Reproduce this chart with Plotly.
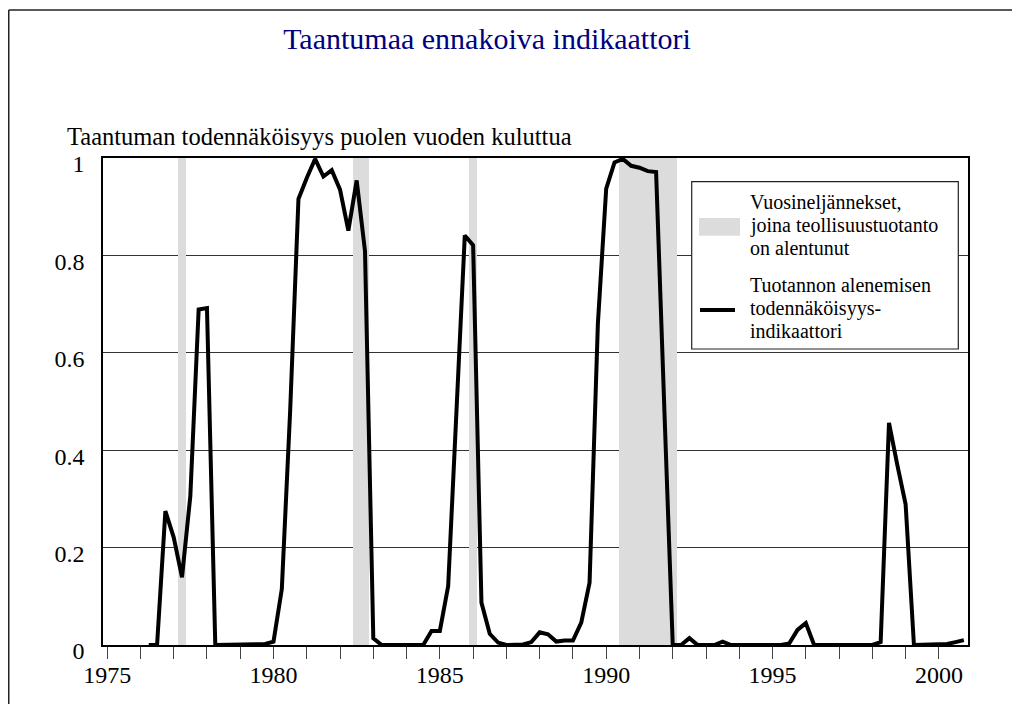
import plotly.graph_objects as go

# ---------------- data ----------------
first_quarter = 1976.25          # 1976 Q2 (decimal year of first observation)
quarter_step = 0.25
probability = [
    0.0, 0.0, 0.275,                 # 1976 Q2-Q4
    0.221, 0.139, 0.306, 0.689,      # 1977
    0.692, 0.0, 0.0, 0.0,            # 1978
    0.0, 0.0, 0.0, 0.002,            # 1979
    0.007, 0.115, 0.48, 0.916,       # 1980
    0.959, 0.998, 0.962, 0.975,      # 1981
    0.935, 0.851, 0.954, 0.809,      # 1982
    0.014, 0.0, 0.0, 0.0,            # 1983
    0.0, 0.0, 0.0, 0.029,            # 1984
    0.029, 0.121, 0.47, 0.841,       # 1985
    0.821, 0.087, 0.023, 0.005,      # 1986
    0.0, 0.0, 0.001, 0.006,          # 1987
    0.026, 0.022, 0.007, 0.009,      # 1988
    0.009, 0.046, 0.128, 0.66,       # 1989
    0.937, 0.991, 0.998, 0.984,      # 1990
    0.980, 0.973, 0.971, 0.48,       # 1991
    0.0, 0.0, 0.014, 0.0,            # 1992
    0.0, 0.0, 0.007, 0.0,            # 1993
    0.0, 0.0, 0.0, 0.0,              # 1994
    0.0, 0.0, 0.003, 0.031,          # 1995
    0.045, 0.0, 0.0, 0.0,            # 1996
    0.0, 0.0, 0.0, 0.0,              # 1997
    0.0, 0.006, 0.456, 0.37,         # 1998
    0.289, 0.0, 0.0, 0.0,            # 1999
    0.0, 0.002, 0.006, 0.01,         # 2000
]
quarters = [first_quarter + quarter_step * i for i in range(len(probability))]

# quarters in which industrial production fell (decimal year of quarter)
decline_quarters = [1977.25, 1982.5, 1982.75, 1986.0,
                    1990.5, 1990.75, 1991.0, 1991.25, 1991.5, 1991.75, 1992.0]

x_tickvals = [1975, 1980, 1985, 1990, 1995, 2000]
y_tickvals = [0, 0.2, 0.4, 0.6, 0.8, 1]
y_ticktext = ["0", "0.2", "0.4", "0.6", "0.8", "1"]

title_text = "Taantumaa ennakoiva indikaattori"
ytitle_text = "Taantuman todennäköisyys puolen vuoden kuluttua"
legend_shade_lines = ["Vuosineljännekset,", "joina teollisuustuotanto", "on alentunut"]
legend_line_lines = ["Tuotannon alenemisen", "todennäköisyys-", "indikaattori"]

# ---------------- figure ----------------
FONT = "Liberation Serif"
OFF = 8                      # page body margin of the rendered html
W, H = 1012, 696
L, R, T, B = 95, 52, 150, 59
PW, PH = W - L - R, H - T - B


def px(xs):
    """screen x pixel -> paper x"""
    return (xs - OFF - L) / PW


def py(ys):
    """screen y pixel -> paper y"""
    return (H - B - (ys - OFF)) / PH


fig = go.Figure()

fig.add_trace(go.Bar(
    x=decline_quarters, y=[1] * len(decline_quarters), width=quarter_step,
    marker=dict(color="#dcdcdc", line=dict(width=0)),
    showlegend=False, hoverinfo="skip",
))

fig.add_trace(go.Scatter(
    x=quarters, y=probability, mode="lines",
    line=dict(color="black", width=4),
    showlegend=False,
))

shapes = []
# outer frame (top and left edges)
shapes.append(dict(type="line", xref="paper", yref="paper",
                   x0=px(8.75), x1=px(1060), y0=py(10), y1=py(10),
                   line=dict(color="#222", width=1.5)))
shapes.append(dict(type="line", xref="paper", yref="paper",
                   x0=px(8.75), x1=px(8.75), y0=py(10), y1=py(740),
                   line=dict(color="#222", width=1.5)))
# legend box
shapes.append(dict(type="rect", xref="paper", yref="paper",
                   x0=px(691.7), x1=px(958.3), y0=py(349), y1=py(181.7),
                   fillcolor="white", line=dict(color="#222", width=1.2),
                   layer="above"))
shapes.append(dict(type="rect", xref="paper", yref="paper",
                   x0=px(699), x1=px(740), y0=py(235.7), y1=py(218),
                   fillcolor="#dcdcdc", line=dict(width=0), layer="above"))
shapes.append(dict(type="line", xref="paper", yref="paper",
                   x0=px(700), x1=px(735), y0=py(310), y1=py(310),
                   line=dict(color="black", width=4), layer="above"))

annotations = []
for txt, yc in zip(legend_shade_lines + legend_line_lines,
                   [202, 225, 248, 285, 308, 331]):
    annotations.append(dict(text=txt, xref="paper", yref="paper",
                            x=px(748), y=py(yc), xanchor="left", yanchor="middle",
                            showarrow=False, font=dict(family=FONT, size=20, color="black")))
annotations.append(dict(text=ytitle_text, xref="paper", yref="paper",
                        x=px(65), y=py(136), xanchor="left", yanchor="middle",
                        showarrow=False, font=dict(family=FONT, size=24.5, color="black")))

fig.update_layout(
    width=W, height=H,
    margin=dict(l=L, r=R, t=T, b=B, pad=0),
    paper_bgcolor="white", plot_bgcolor="white",
    title=dict(text=title_text, x=(487 - OFF) / W, y=1 - (38 - OFF) / H,
               xanchor="center", yanchor="middle",
               xref="container", yref="container",
               font=dict(family=FONT, size=30, color="#000080")),
    shapes=shapes, annotations=annotations,
    showlegend=False, bargap=0,
    font=dict(family=FONT, size=24, color="black"),
)

fig.update_xaxes(
    range=[1974.875, 2000.875],
    tickmode="array", tickvals=x_tickvals, ticktext=[str(v) for v in x_tickvals],
    ticks="outside", ticklen=12, tickwidth=1, tickcolor="#444",
    ticklabelstandoff=-5,
    minor=dict(dtick=1, tick0=1975, ticks="outside", ticklen=12, tickwidth=1, tickcolor="#444",
               showgrid=False),
    showgrid=False, zeroline=False,
    showline=True, linecolor="black", linewidth=1.5, mirror=True,
    tickfont=dict(family=FONT, size=24),
)
fig.update_yaxes(
    range=[0, 1],
    tickmode="array", tickvals=y_tickvals, ticktext=y_ticktext,
    ticks="", ticklabelstandoff=12, ticklabelshift=6,
    showgrid=True, gridcolor="#333", gridwidth=1, zeroline=False,
    showline=True, linecolor="black", linewidth=1.5, mirror=True,
    tickfont=dict(family=FONT, size=24),
)

fig.write_html("out.html")
